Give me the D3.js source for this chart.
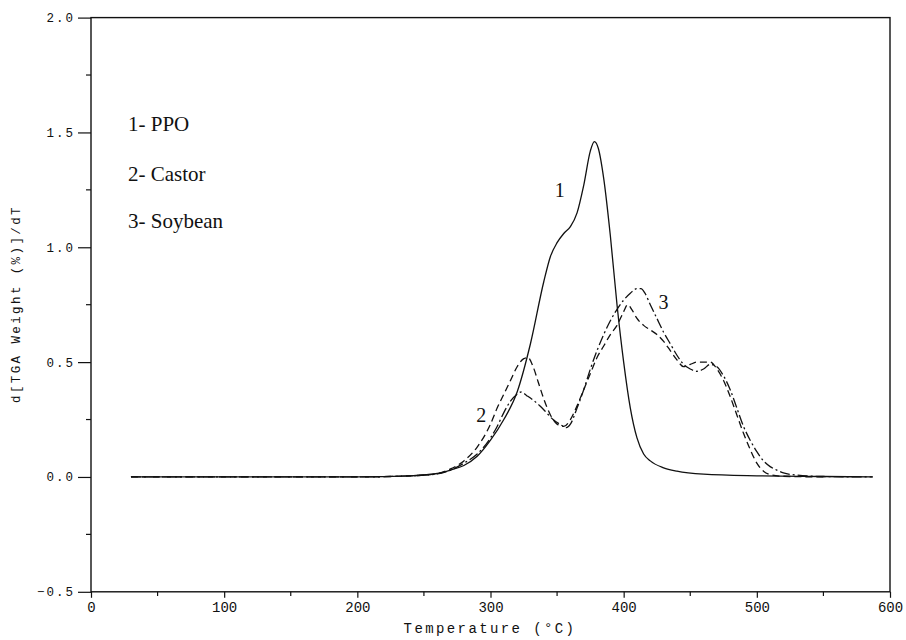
<!DOCTYPE html>
<html><head><meta charset="utf-8">
<script src="https://cdn.jsdelivr.net/npm/d3@7"></script>
<style>
body{margin:0;background:#fff;}
svg{display:block;}
.mono{font-family:"Liberation Mono","DejaVu Sans Mono",monospace;fill:#111;}
.serif{font-family:"Liberation Serif","Times New Roman",serif;fill:#111;}
</style></head>
<body>
<svg id="chart" width="906" height="640"></svg>
<script>
// ---- data ----
const ppoT = [30,100,200,240,260,270,280,290,300,310,320,330,340,345,350,355,360,365,370,375,378,381,385,390,395,400,405,410,415,420,430,440,460,500,550,587];
const ppoV = [0,0,0,0.005,0.015,0.03,0.05,0.09,0.16,0.25,0.37,0.58,0.85,0.96,1.02,1.06,1.09,1.15,1.27,1.42,1.46,1.43,1.3,1.05,0.75,0.5,0.3,0.17,0.1,0.07,0.04,0.025,0.012,0.005,0.002,0];

const castorT = [30,100,200,240,260,270,280,290,300,305,310,315,320,325,328,332,336,340,345,350,355,360,365,370,375,380,385,390,395,400,403,406,410,415,420,425,430,435,440,445,450,455,460,465,470,475,480,485,490,495,500,505,510,520,550];
const castorV = [0,0,0,0.005,0.015,0.035,0.07,0.13,0.23,0.3,0.36,0.42,0.48,0.515,0.52,0.48,0.41,0.34,0.27,0.23,0.22,0.25,0.31,0.38,0.45,0.52,0.57,0.62,0.66,0.72,0.75,0.73,0.69,0.66,0.64,0.62,0.59,0.55,0.51,0.48,0.49,0.5,0.5,0.5,0.47,0.42,0.35,0.27,0.19,0.12,0.06,0.025,0.01,0.003,0];

const soyT = [30,100,200,240,260,270,280,290,300,305,310,315,320,323,327,332,337,342,347,352,357,360,365,370,375,380,385,390,395,400,405,410,413,416,420,425,430,435,440,445,450,455,460,465,470,475,480,485,490,495,500,505,510,515,520,530,550,587];
const soyV = [0,0,0,0.005,0.013,0.03,0.06,0.1,0.17,0.22,0.28,0.33,0.36,0.37,0.355,0.335,0.31,0.28,0.25,0.23,0.215,0.23,0.3,0.38,0.47,0.55,0.62,0.68,0.73,0.77,0.8,0.82,0.82,0.8,0.75,0.69,0.63,0.58,0.53,0.49,0.47,0.46,0.47,0.49,0.48,0.44,0.38,0.3,0.22,0.16,0.11,0.07,0.045,0.03,0.018,0.008,0.002,0];

const xTicks = [0,100,200,300,400,500,600];
const xMinor = [50,150,250,350,450,550];
const yTicks = [-0.5,0.0,0.5,1.0,1.5,2.0];
const yMinor = [-0.25,0.25,0.75,1.25,1.75];
const legendItems = ["1- PPO","2- Castor","3- Soybean"];
const curveLabels = [{t:"1",x:352,y:1.25},{t:"2",x:293,y:0.27},{t:"3",x:430,y:0.76}];

// ---- layout ----
const svg = d3.select("#chart");
const x = d3.scaleLinear().domain([0,600]).range([91,890]);
const y = d3.scaleLinear().domain([-0.5,2.0]).range([591.8,17.6]);

// frame
svg.append("rect").attr("x",91).attr("y",17.6).attr("width",799).attr("height",574.2)
  .attr("fill","none").attr("stroke","#111").attr("stroke-width",1.4);

// y axis
const yAxis = d3.axisLeft(y).tickValues(yTicks).tickFormat(d3.format(".1f")).tickSize(13).tickSizeOuter(0);
const yg = svg.append("g").attr("transform","translate(91,0)").call(yAxis);
yg.select(".domain").remove();
yg.selectAll("text").attr("font-size",12.5).attr("letter-spacing",2).attr("dx",0).attr("fill","#111").style("font-family","'Liberation Mono',monospace");
yg.selectAll("line").attr("stroke","#111").attr("stroke-width",1.2);
svg.append("g").selectAll("line").data(yMinor).join("line")
  .attr("x1",86).attr("x2",91).attr("y1",d=>y(d)).attr("y2",d=>y(d)).attr("stroke","#111").attr("stroke-width",1.2);

// x axis
const xAxis = d3.axisBottom(x).tickValues(xTicks).tickFormat(d3.format("d")).tickSize(6).tickSizeOuter(0);
const xg = svg.append("g").attr("transform","translate(0,591.8)").call(xAxis);
xg.select(".domain").remove();
xg.selectAll("text").attr("font-size",14).attr("dy","0.8em").style("font-family","'Liberation Mono',monospace").attr("fill","#111");
xg.selectAll("line").attr("stroke","#111").attr("stroke-width",1.2);
svg.append("g").selectAll("line").data(xMinor).join("line")
  .attr("x1",d=>x(d)).attr("x2",d=>x(d)).attr("y1",591.8).attr("y2",596).attr("stroke","#111").attr("stroke-width",1.2);

// axis titles
svg.append("text").attr("class","mono").attr("x",490).attr("y",633).attr("text-anchor","middle")
  .attr("font-size",14).attr("letter-spacing",2.4).text("Temperature (°C)");
svg.append("text").attr("class","mono").attr("transform","translate(20,304) rotate(-90)").attr("text-anchor","middle")
  .attr("font-size",12.5).attr("letter-spacing",2.4).text("d[TGA Weight (%)]/dT");

// curves
const line = d3.line().x(d=>x(d[0])).y(d=>y(d[1])).curve(d3.curveMonotoneX);
const series = [
  {T:ppoT,V:ppoV,dash:null},
  {T:castorT,V:castorV,dash:"7,4"},
  {T:soyT,V:soyV,dash:"10,3,2,3"}
];
svg.append("g").selectAll("path").data(series).join("path")
  .attr("d",s=>line(s.T.map((t,i)=>[t,s.V[i]])))
  .attr("fill","none").attr("stroke","#111").attr("stroke-width",1.3)
  .attr("stroke-dasharray",s=>s.dash);

// legend
svg.append("g").selectAll("text").data(legendItems).join("text")
  .attr("class","serif").attr("x",128).attr("y",(d,i)=>[131,181,228][i]).attr("font-size",21).text(d=>d);

// curve labels
svg.append("g").selectAll("text").data(curveLabels).join("text")
  .attr("class","serif").attr("x",d=>x(d.x)).attr("y",d=>y(d.y)+7).attr("text-anchor","middle").attr("font-size",20).text(d=>d.t);
</script>
</body></html>
